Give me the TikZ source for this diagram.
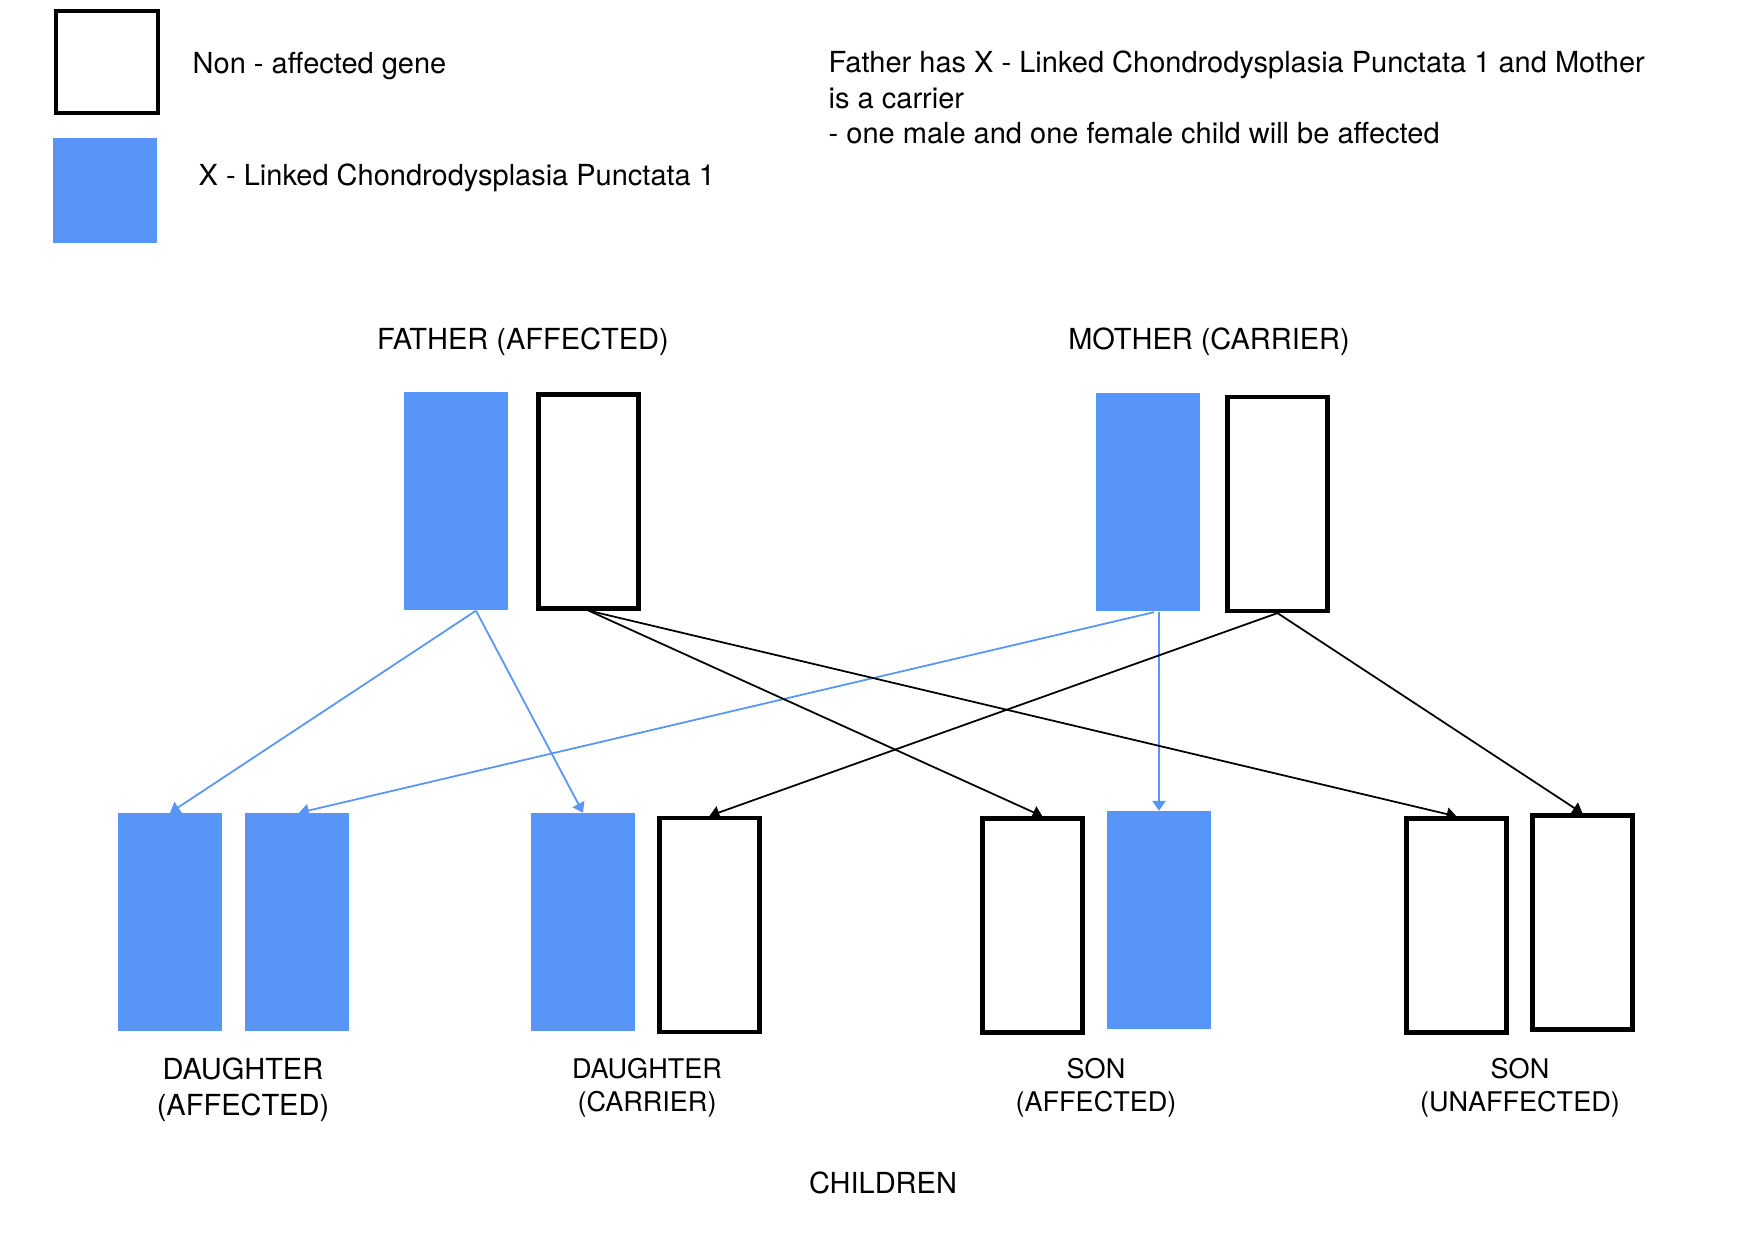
\documentclass[tikz,border=0pt]{standalone}
\usepackage{fontspec}
\setmainfont{TeX Gyre Heros}
\usetikzlibrary{arrows.meta}
\definecolor{xblue}{RGB}{87,149,248}

\begin{document}
\begin{tikzpicture}[
  font=\fontsize{8.25}{10.1}\selectfont,
  ok/.style={draw,line width=1.2pt,minimum width=1.0cm,minimum height=2.14cm,inner sep=0},
  bad/.style={fill=xblue,minimum width=1.04cm,minimum height=2.18cm,inner sep=0},
  big/.style={align=center,font=\fontsize{8.25}{10.2}\selectfont},
  sml/.style={align=center,font=\fontsize{7.7}{9.5}\selectfont},
  inh/.style={-{Triangle[length=2.8pt,width=3.7pt]},line width=0.5pt},
]
  \useasboundingbox (0,0) rectangle (17.54,12.39);
  % legend
  \node[draw,line width=1.2pt,minimum size=1.02cm,inner sep=0] (keyok) at (1.07,11.77) {};
  \node[fill=xblue,minimum width=1.04cm,minimum height=1.05cm,inner sep=0] (keybad) at (1.05,10.485) {};
  \node[anchor=west,inner sep=0] (keyoktxt) at (1.92,11.73) {Non - affected gene};
  \node[anchor=west,inner sep=0] (keybadtxt) at (1.98,10.61) {X - Linked Chondrodysplasia Punctata 1};
  \node[anchor=north west,align=left,inner sep=0] (note) at (8.28,11.885)
    {Father has X - Linked Chondrodysplasia Punctata 1 and Mother\\
     is a carrier\\
     - one male and one female child will be affected};

  % parents
  \node[big] (father) at (5.23,8.97) {FATHER (AFFECTED)};
  \node[big] (mother) at (12.09,8.97) {MOTHER (CARRIER)};
  \node[bad] (fx) at (4.56,7.38) {};
  \node[ok]  (fy) at (5.885,7.375) {};
  \node[bad] (mxa) at (11.48,7.365) {};
  \node[ok]  (mxn) at (12.775,7.35) {};

  % children
  \node[bad] (da1) at (1.70,3.165) {};
  \node[bad] (da2) at (2.97,3.165) {};
  \node[bad] (dc1) at (5.83,3.165) {};
  \node[ok]  (dc2) at (7.095,3.14) {};
  \node[ok]  (sa1) at (10.325,3.135) {};
  \node[bad] (sa2) at (11.59,3.185) {};
  \node[ok]  (su1) at (14.565,3.135) {};
  \node[ok]  (su2) at (15.825,3.165) {};

  \node[big] (dalbl) at (2.43,1.49) {DAUGHTER\\(AFFECTED)};
  \node[sml] (dclbl) at (6.47,1.51) {DAUGHTER\\(CARRIER)};
  \node[sml] (salbl) at (10.96,1.51) {SON\\(AFFECTED)};
  \node[sml] (sulbl) at (15.20,1.51) {SON\\(UNAFFECTED)};
  \node[big] (children) at (8.83,0.56) {CHILDREN};

  % inheritance
  \draw[inh,xblue] ([xshift=2mm]fx.south) -- (da1.north);
  \draw[inh,xblue] ([xshift=2mm]fx.south) -- (dc1.north);
  \draw[inh,xblue] ([xshift=0.6mm]mxa.south) -- ([xshift=0.2mm]da2.north);
  \draw[inh,xblue] (sa2.north |- mxa.south) -- (sa2.north);
  \draw[inh] (fy.south) -- ([xshift=1mm]sa1.north);
  \draw[inh] (fy.south) -- (su1.north);
  \draw[inh] (mxn.south) -- (dc2.north);
  \draw[inh] (mxn.south) -- (su2.north);
\end{tikzpicture}
\end{document}
